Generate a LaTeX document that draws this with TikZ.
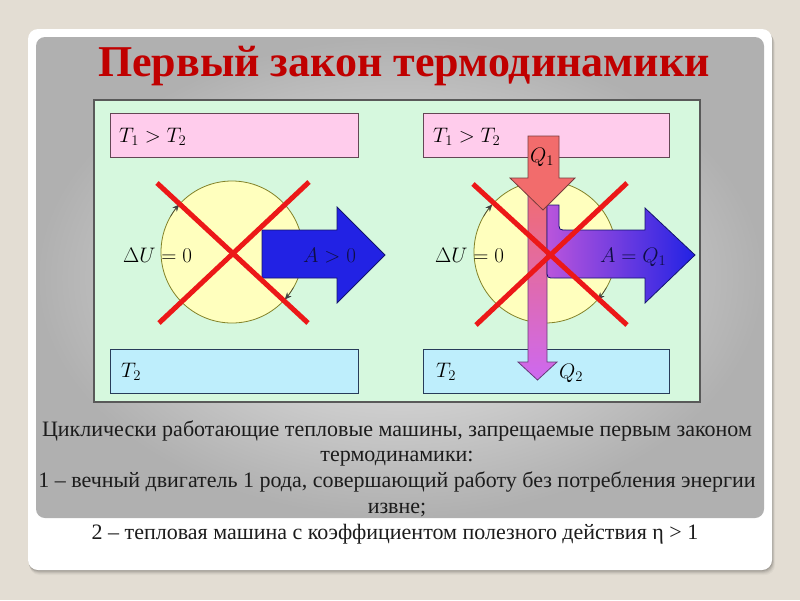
\RequirePackage{fix-cm}
\documentclass[tikz,border=0pt]{standalone}
\usepackage{fontspec}
\setmainfont{Liberation Serif}
\usetikzlibrary{arrows.meta}
\definecolor{bgbeige}{RGB}{227,221,211}
\definecolor{titlered}{RGB}{192,0,0}
\definecolor{mint}{RGB}{214,248,222}
\definecolor{pinkbox}{RGB}{255,204,236}
\definecolor{pinkline}{RGB}{100,70,85}
\definecolor{cyanbox}{RGB}{190,238,252}
\definecolor{cyanline}{RGB}{40,60,90}
\definecolor{circfill}{RGB}{255,255,190}
\definecolor{circline}{RGB}{130,130,40}
\definecolor{xred}{RGB}{236,24,24}
\definecolor{arrowblue}{RGB}{34,34,228}
\definecolor{arrowblueline}{RGB}{20,20,110}
\definecolor{salmon}{RGB}{242,108,108}
\definecolor{redline}{RGB}{120,60,60}
\definecolor{violetarrow}{RGB}{205,105,240}
\definecolor{violetline}{RGB}{100,60,120}
\definecolor{purpleblend}{RGB}{185,85,220}
\definecolor{textgray}{RGB}{28,28,28}
\definecolor{navytext}{RGB}{15,15,70}
\tikzset{
  boxrect/.style={line width=1pt},
  mathlbl/.style={font=\fontsize{21}{21}\selectfont, inner sep=0pt, anchor=base west},
  bodytext/.style={font=\fontsize{22}{22}\selectfont, text=textgray, inner sep=0pt, anchor=base},
  cross/.style={draw=xred, line width=5pt},
  circ/.style={fill=circfill, draw=circline, line width=0.8pt},
  rot/.style={draw=black!75, line width=0.5pt, -{Stealth[length=7pt,width=6pt]}},
}
\begin{document}
\begin{tikzpicture}[x=1pt,y=-1pt]
\useasboundingbox (0,0) rectangle (800,600);
\fill[bgbeige] (0,0) rectangle (800,600);
% card with shadow
\foreach \i/\o in {1/0.10,2/0.08,3/0.06,4/0.04,5/0.03}{
  \fill[black, opacity=\o, rounded corners=10pt] (28+0.3*\i,29+\i) rectangle (772+0.6*\i,570+\i);
}
\fill[white, rounded corners=10pt] (28,29) rectangle (772,570);
\shade[rounded corners=9pt, inner color=gray!12, outer color=gray!62] (36,37) rectangle (764,518);
% title
\node[font=\fontsize{44}{44}\selectfont\bfseries, text=titlered, anchor=base, inner sep=0pt] (title) at (404,76) {Первый закон термодинамики};
% diagram background
\draw[fill=mint, draw=black!65, line width=1.5pt] (94,100) rectangle (700,402);
% ---------- left panel ----------
\draw[boxrect, fill=pinkbox, draw=pinkline] (110,113) rectangle (358,157);
\draw[boxrect, fill=cyanbox, draw=cyanline] (110,349) rectangle (358,393);
\draw[circ] (232,252) circle[radius=71pt];
\draw[rot] (232,252) ++(150:71pt) arc[start angle=150, end angle=138, radius=71pt];
\draw[rot] (232,252) ++(-30:71pt) arc[start angle=-30, end angle=-42, radius=71pt];
\draw[fill=arrowblue, draw=arrowblueline, line width=0.8pt] (262,230) -- (337,230) -- (337,207) -- (385,255) -- (337,303) -- (337,278) -- (262,278) -- cycle;
\node[mathlbl] (t1a) at (119,142) {$T_1 > T_2$};
\node[mathlbl] (t2a) at (121,377) {$T_2$};
\node[mathlbl] (dua) at (123,262) {$\Delta U = 0$};
\node[mathlbl, text=navytext] (aa) at (303,262) {$A > 0$};
\draw[cross] (157,183) -- (308,323);
\draw[cross] (309,182) -- (159,323);
% ---------- right panel ----------
\draw[boxrect, fill=pinkbox, draw=pinkline] (423,113) rectangle (669,157);
\draw[boxrect, fill=cyanbox, draw=cyanline] (423,349) rectangle (669,393);
\draw[circ] (545,252) circle[radius=71pt];
\draw[rot] (545,252) ++(150:71pt) arc[start angle=150, end angle=138, radius=71pt];
\draw[rot] (545,252) ++(-30:71pt) arc[start angle=-30, end angle=-42, radius=71pt];
% lower (Q2) arrow
\draw[top color=salmon, bottom color=violetarrow, draw=violetline, line width=0.8pt]
  (528,185) -- (547,185) -- (547,362) -- (557,362) -- (537.5,380) -- (518,362) -- (528,362) -- cycle;
% work arrow
\draw[left color=purpleblend, middle color=arrowblue, right color=arrowblue, draw=arrowblueline, line width=0.8pt]
  (547,205) -- (559,205) -- (559,222) .. controls (559,230) .. (567,230) -- (645,230) -- (645,208) -- (695,255)
  -- (645,303) -- (645,278) -- (555,278) .. controls (547,278) .. (547,270) -- cycle;
% upper (Q1) arrow
\draw[fill=salmon, draw=redline, line width=0.8pt]
  (528,136) -- (559,136) -- (559,178) -- (575,178) -- (543,210) -- (510,178) -- (528,178) -- cycle;
\node[mathlbl] (t1b) at (433,142) {$T_1 > T_2$};
\node[mathlbl] (t2b) at (436,377) {$T_2$};
\node[mathlbl] (dub) at (435,262) {$\Delta U = 0$};
\node[mathlbl, text=navytext] (ab) at (600,262) {$A = Q_1$};
\node[mathlbl] (q1) at (530,162) {$Q_1$};
\node[mathlbl] (q2) at (559,378) {$Q_2$};
\draw[cross] (473,184) -- (627,325);
\draw[cross] (627,183) -- (476,325);
% ---------- caption ----------
\node[bodytext] (l1) at (397,436) {Циклически работающие тепловые машины, запрещаемые первым законом};
\node[bodytext] (l2) at (397,461.5) {термодинамики:};
\node[bodytext] (l3) at (397,487) {1 – вечный двигатель 1 рода, совершающий работу без потребления энергии};
\node[bodytext] (l4) at (397,513) {извне;};
\node[bodytext] (l5) at (395,539) {2 – тепловая машина с коэффициентом полезного действия η > 1};
\end{tikzpicture}
\end{document}
